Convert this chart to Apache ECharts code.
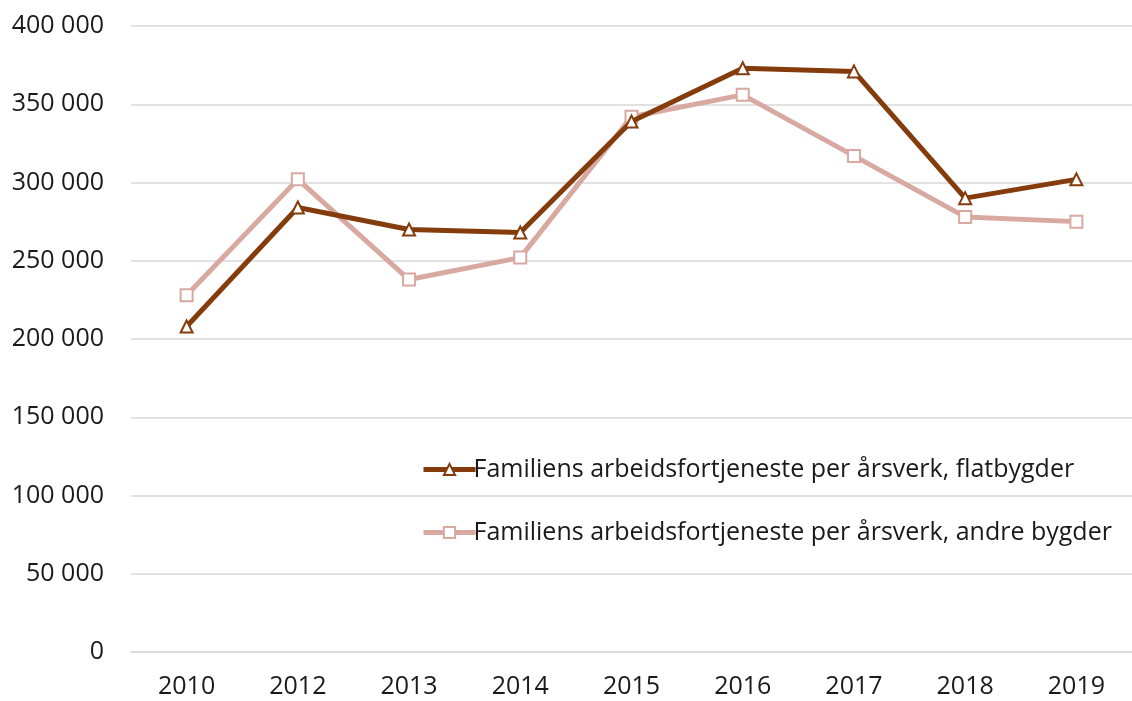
<!DOCTYPE html>
<html>
<head>
<meta charset="utf-8">
<script src="https://cdn.jsdelivr.net/npm/echarts@6/dist/echarts.min.js"></script>
<style>
html, body { margin: 0; padding: 0; background: #fff; }
#chart { width: 1132px; height: 701px; }
</style>
</head>
<body>
<div id="chart"></div>
<script>
const years = ['2010', '2012', '2013', '2014', '2015', '2016', '2017', '2018', '2019'];
const flatbygder = [208000, 284000, 270000, 268000, 339000, 373000, 371000, 290000, 302000];
const andreBygder = [228000, 302000, 238000, 252000, 342000, 356000, 317000, 278000, 275000];
const seriesNames = [
    'Familiens arbeidsfortjeneste per årsverk, flatbygder',
    'Familiens arbeidsfortjeneste per årsverk, andre bygder'
];
const colors = ['#843C0C', '#D7A9A0'];

const chart = echarts.init(document.getElementById('chart'));
const font = '"Open Sans", sans-serif';

// tusenskille med mellomrom
const fmt = v => String(v).replace(/\B(?=(\d{3})+(?!\d))/g, ' ');

chart.setOption({
    animation: false,
    textStyle: { fontFamily: font },
    grid: { left: 131, top: 26, width: 1012, bottom: 49 },
    legend: {
        orient: 'vertical',
        left: 416,
        top: 452,
        itemGap: 38,
        itemWidth: 52,
        itemHeight: 14,
        textStyle: { fontSize: 25, color: '#1a1a1a', fontFamily: font, padding: [0, 0, 0, -7] },
        data: seriesNames.map((n, i) => ({
            name: n,
            lineStyle: { width: 5, color: colors[i] }
        }))
    },
    xAxis: {
        type: 'category',
        data: years,
        boundaryGap: true,
        axisLine: { lineStyle: { color: '#d9d9d9', width: 1.5 } },
        axisTick: { show: false },
        axisLabel: { fontSize: 25, color: '#1a1a1a', margin: 22 }
    },
    yAxis: {
        type: 'value',
        min: 0,
        max: 400000,
        interval: 50000,
        axisLine: { show: false },
        axisTick: { show: false },
        splitLine: { lineStyle: { color: '#d9d9d9', width: 1.5 } },
        axisLabel: { fontSize: 25, color: '#1a1a1a', margin: 27, formatter: fmt }
    },
    series: [
        {
            name: seriesNames[0],
            type: 'line',
            data: flatbygder,
            symbol: 'triangle',
            symbolSize: 12,
            itemStyle: { color: '#fff', borderColor: colors[0], borderWidth: 2 },
            lineStyle: { color: colors[0], width: 5 },
            z: 3
        },
        {
            name: seriesNames[1],
            type: 'line',
            data: andreBygder,
            symbol: 'rect',
            symbolSize: 12,
            itemStyle: { color: '#fff', borderColor: colors[1], borderWidth: 2 },
            lineStyle: { color: colors[1], width: 5 },
            z: 2
        }
    ]
});
</script>
</body>
</html>
